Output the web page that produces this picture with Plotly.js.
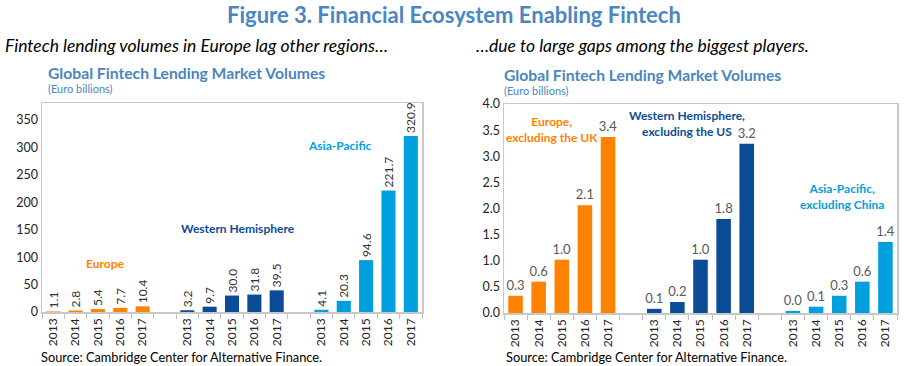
<!DOCTYPE html>
<html>
<head>
<meta charset="utf-8">
<script src="https://cdn.plot.ly/plotly-3.0.1.min.js"></script>
<style>html,body{margin:0;padding:0;background:#fff;}#chart{width:908px;height:366px;}</style>
</head>
<body>
<div id="chart"></div>
<script>
// ---- data ----
const years = ["2013", "2014", "2015", "2016", "2017"];
const leftEurope = [1.1, 2.8, 5.4, 7.7, 10.4];
const leftWestern = [3.2, 9.7, 30.0, 31.8, 39.5];
const leftAsia = [4.1, 20.3, 94.6, 221.7, 320.9];
const rightEurope = [0.33, 0.6, 1.02, 2.06, 3.37];
const rightWestern = [0.08, 0.21, 1.02, 1.8, 3.24];
const rightAsia = [0.04, 0.12, 0.33, 0.6, 1.36];
const leftTicks = [0, 50, 100, 150, 200, 250, 300, 350];
const rightTicks = [0, 0.5, 1.0, 1.5, 2.0, 2.5, 3.0, 3.5, 4.0];

const cOrange = "#FF8200";
const cDark = "#0B4C96";
const cLight = "#009FDD";
const cTitle = "#4A86BF";
const FONT = "Lato, 'Open Sans', sans-serif";

const cats = (k) => years.map(y => k + y);
const catArray = [...cats("E"), "gap1", ...cats("W"), "gap2", ...cats("A")];
const tickText = catArray.map(c => c.startsWith("gap") ? "" : c.slice(1));

function bars(key, vals, color, xa, ya, left) {
  return {
    type: "bar", x: cats(key), y: vals, xaxis: xa, yaxis: ya,
    marker: {color: color},
    text: vals.map(v => v.toFixed(1)),
    textposition: "outside",
    textangle: left ? -90 : 0,
    constraintext: "none",
    cliponaxis: false,
    textfont: {family: FONT, size: left ? 12 : 13, color: left ? "#333333" : "#595959"},
    hoverinfo: "skip", showlegend: false
  };
}

const data = [
  bars("E", leftEurope, cOrange, "x", "y", true),
  bars("W", leftWestern, cDark, "x", "y", true),
  bars("A", leftAsia, cLight, "x", "y", true),
  bars("E", rightEurope, cOrange, "x2", "y2", false),
  bars("W", rightWestern, cDark, "x2", "y2", false),
  bars("A", rightAsia, cLight, "x2", "y2", false)
];

const xCommon = {
  type: "category", categoryorder: "array", categoryarray: catArray,
  tickvals: catArray, ticktext: tickText, tickangle: -90,
  tickson: "boundaries", ticks: "outside", ticklen: 5, tickcolor: "#bfbfbf",
  showline: true, linecolor: "#c8c8c8", linewidth: 1.5, mirror: true,
  showgrid: false, zeroline: false, fixedrange: true,
  tickfont: {family: FONT, size: 12, color: "#222222"}
};
const yCommon = {
  showline: true, linecolor: "#c8c8c8", linewidth: 1.5, mirror: true,
  showgrid: false, zeroline: false, ticks: "", fixedrange: true,
  tickfont: {family: FONT, size: 12.5, color: "#222222"}
};

const ann = (text, x, y, opts) => Object.assign({
  text: text, x: x, y: y, xref: "paper", yref: "paper", showarrow: false,
  xanchor: "left", yanchor: "middle", font: {family: FONT, size: 12, color: "#000"}
}, opts || {});
const px = (v) => v / 908;
const py = (v) => 1 - v / 366;
const bold = (s) => "<b>" + s + "</b>";

const annotations = [
  ann(bold("Figure 3. Financial Ecosystem Enabling Fintech"), px(454), py(14), {xanchor: "center", font: {family: FONT, size: 22, color: cTitle}}),
  ann("<i>Fintech lending volumes in Europe lag other regions…</i>", px(3), py(45), {font: {family: FONT, size: 17.5, color: "#000"}}),
  ann("<i>…due to large gaps among the biggest players.</i>", px(474), py(45), {font: {family: FONT, size: 17.5, color: "#000"}}),
  ann(bold("Global Fintech Lending Market Volumes"), px(46), py(73), {font: {family: FONT, size: 15.7, color: cTitle}}),
  ann("(Euro billions)", px(46), py(89), {font: {family: FONT, size: 11, color: cTitle}}),
  ann(bold("Global Fintech Lending Market Volumes"), px(502), py(75), {font: {family: FONT, size: 15.7, color: cTitle}}),
  ann("(Euro billions)", px(502), py(91), {font: {family: FONT, size: 11, color: cTitle}}),
  ann("Source: Cambridge Center for Alternative Finance.", px(39), py(357), {font: {family: FONT, size: 12.8, color: "#000"}}),
  ann("Source: Cambridge Center for Alternative Finance.", px(504), py(357), {font: {family: FONT, size: 12.8, color: "#000"}}),
  ann(bold("Europe"), px(105), py(263), {xanchor: "center", font: {family: FONT, size: 12, color: cOrange}}),
  ann(bold("Western Hemisphere"), px(238), py(228), {xanchor: "center", font: {family: FONT, size: 12, color: cDark}}),
  ann(bold("Asia-Pacific"), px(340), py(145), {xanchor: "center", font: {family: FONT, size: 12, color: cLight}}),
  ann(bold("Europe,<br>excluding the UK"), px(552), py(130), {xanchor: "center", font: {family: FONT, size: 12, color: cOrange}}),
  ann(bold("Western Hemisphere,<br>excluding the US"), px(687), py(123), {xanchor: "center", font: {family: FONT, size: 12, color: cDark}}),
  ann(bold("Asia-Pacific,<br>excluding China"), px(842), py(196), {xanchor: "center", font: {family: FONT, size: 12, color: cLight}})
];

const layout = {
  width: 908, height: 366,
  margin: {l: 0, r: 0, t: 0, b: 0},
  paper_bgcolor: "#fff", plot_bgcolor: "#fff",
  barmode: "group", bargap: 0.37,
  showlegend: false,
  font: {family: FONT},
  xaxis: Object.assign({}, xCommon, {domain: [px(42), px(422)], anchor: "y"}),
  yaxis: Object.assign({}, yCommon, {domain: [py(312), py(103)], range: [0, 381], tickvals: leftTicks, anchor: "x"}),
  xaxis2: Object.assign({}, xCommon, {domain: [px(504), px(897)], anchor: "y2"}),
  yaxis2: Object.assign({}, yCommon, {domain: [py(313), py(104)], range: [0, 4], tickvals: rightTicks, tickformat: ".1f", anchor: "x2"}),
  annotations: annotations
};

Plotly.newPlot("chart", data, layout, {staticPlot: true, displayModeBar: false});
</script>
</body>
</html>
